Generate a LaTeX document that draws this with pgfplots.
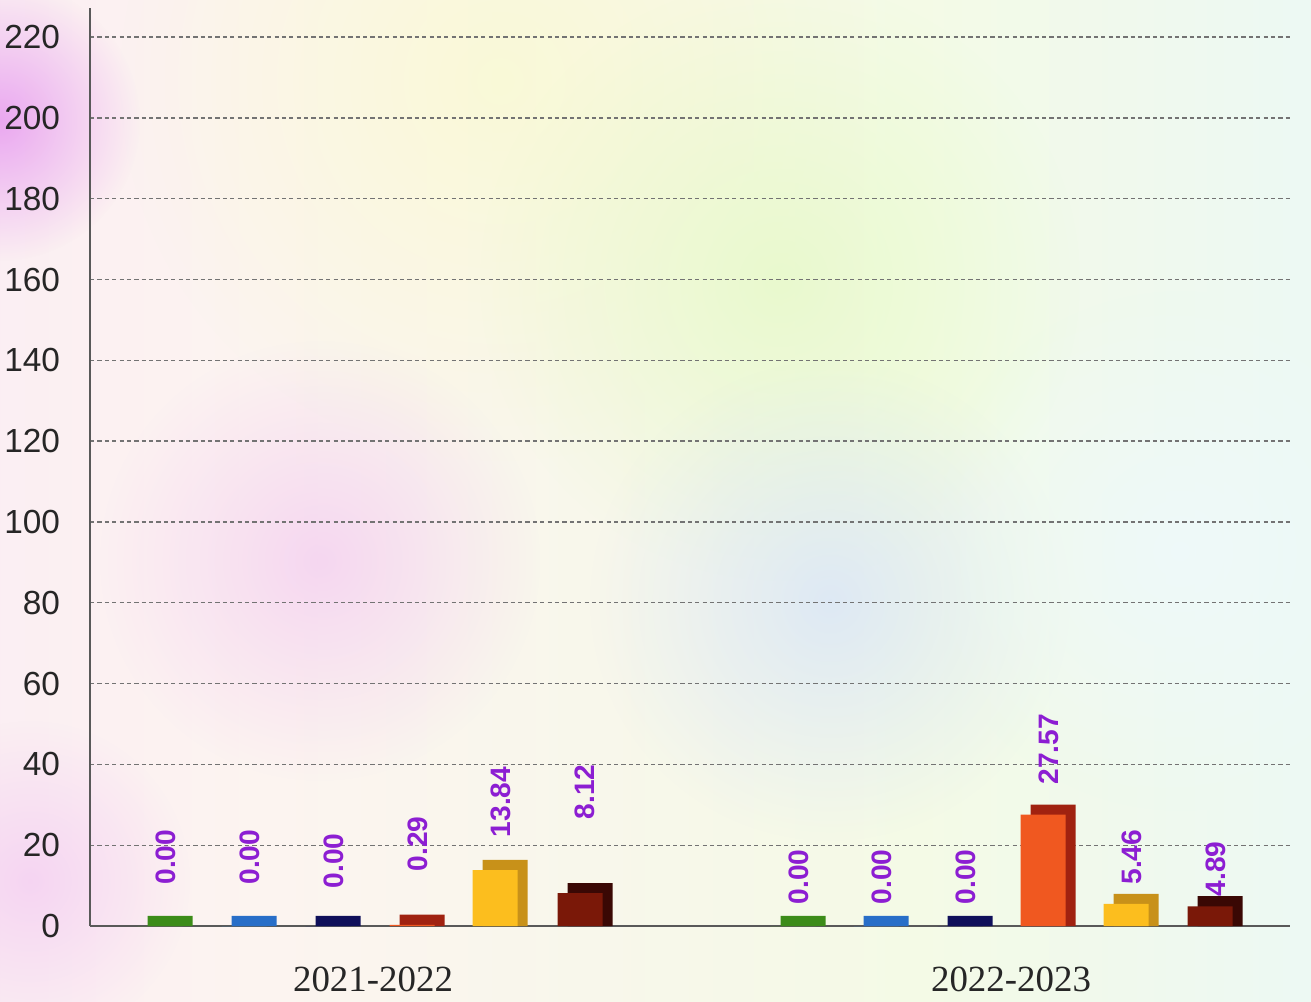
\documentclass[border=0pt]{standalone}
\usepackage{fontspec}
\setmainfont{Liberation Sans}
\newfontfamily\timesfont{Liberation Serif}
\usepackage{pgfplots}
\pgfplotsset{compat=1.18}
\usetikzlibrary{fadings}

\definecolor{gfront}{RGB}{92,180,40}   \definecolor{gback}{RGB}{60,140,25}
\definecolor{bfront}{RGB}{60,145,230}  \definecolor{bback}{RGB}{40,110,200}
\definecolor{nfront}{RGB}{28,28,130}   \definecolor{nback}{RGB}{15,15,90}
\definecolor{ofront}{RGB}{240,88,32}   \definecolor{oback}{RGB}{160,34,16}
\definecolor{yfront}{RGB}{252,190,30}  \definecolor{yback}{RGB}{200,145,25}
\definecolor{mfront}{RGB}{122,24,8}    \definecolor{mback}{RGB}{58,8,4}
\definecolor{lbl}{RGB}{140,30,210}
% background tones
\definecolor{c1}{RGB}{240,190,242}
\definecolor{c2}{RGB}{250,228,248}
\definecolor{c3}{RGB}{252,244,240}
\definecolor{c4}{RGB}{244,250,230}
\definecolor{c5}{RGB}{234,248,248}
\definecolor{c6}{RGB}{238,250,252}
\definecolor{bgyel}{RGB}{250,250,210}
\definecolor{bggreen}{RGB}{230,250,200}
\definecolor{bgblue}{RGB}{212,226,250}
\definecolor{bgpink}{RGB}{242,195,242}
\definecolor{bgmag}{RGB}{230,150,240}
\pgfdeclarehorizontalshading{bgh}{100bp}{color(0bp)=(c1); color(6bp)=(c2);
  color(35bp)=(c3); color(60bp)=(c4); color(80bp)=(c5); color(100bp)=(c6)}
\tikzfading[name=soft, inner color=transparent!0, outer color=transparent!100]

\begin{document}
\begin{tikzpicture}
\useasboundingbox (0,0) rectangle (131.1mm,100.1mm);
% watercolour-like background
\shade[shading=bgh] (0,0) rectangle (131.1mm,100.1mm);
\fill[bgyel, opacity=0.8, path fading=soft] (50mm,92mm) circle (38mm);
\fill[bggreen, opacity=0.8, path fading=soft] (78mm,72mm) circle (30mm);
\fill[bgblue, opacity=0.7, path fading=soft] (83mm,40mm) circle (24mm);
\fill[bgpink, opacity=0.6, path fading=soft] (32mm,44mm) circle (22mm);
\fill[bgmag, opacity=0.8, path fading=soft] (0mm,88mm) circle (14mm);
\fill[bgpink, opacity=0.6, path fading=soft] (3mm,12mm) circle (16mm);
\fill[c6, opacity=0.8, path fading=soft] (118mm,45mm) circle (26mm);

\begin{axis}[
    at={(9mm,7.5mm)}, anchor=south west,
    scale only axis,
    width=120mm, height=91.8mm,
    xmin=90, xmax=1290,
    ymin=0, ymax=227.2,
    axis lines*=left,
    axis line style={-, draw=black!65, line width=0.8pt},
    ytick={0,20,...,220},
    ymajorgrids,
    grid style={draw=black!55, line width=0.4pt, dash pattern=on 1.2pt off 0.9pt},
    major tick length=0pt,
    /pgf/number format/assume math mode=true,
    yticklabel style={font=\fontsize{9.5}{11}\selectfont, color=black!85, xshift=-5pt},
    xtick={373,1011},
    xticklabels={2021-2022,2022-2023},
    xticklabel style={font=\timesfont\fontsize{10.5}{12}\selectfont, color=black!85, yshift=-8pt},
    bar width=45,
  ]
  % back (depth) faces
  \addplot[ybar, bar shift=0pt, draw=none, fill=gback] coordinates {(170,2.5) (803,2.5)};
  \addplot[ybar, bar shift=0pt, draw=none, fill=bback] coordinates {(254,2.5) (886,2.5)};
  \addplot[ybar, bar shift=0pt, draw=none, fill=nback] coordinates {(338,2.5) (970,2.5)};
  \addplot[ybar, bar shift=0pt, draw=none, fill=oback] coordinates {(422,2.79) (1053,30.07)};
  \addplot[ybar, bar shift=0pt, draw=none, fill=yback] coordinates {(505,16.34) (1136,7.96)};
  \addplot[ybar, bar shift=0pt, draw=none, fill=mback] coordinates {(590,10.62) (1220,7.39)};
  % front faces
  \addplot[ybar, bar shift=0pt, draw=none, fill=gfront] coordinates {(160,0.00) (793,0.00)};
  \addplot[ybar, bar shift=0pt, draw=none, fill=bfront] coordinates {(244,0.00) (876,0.00)};
  \addplot[ybar, bar shift=0pt, draw=none, fill=nfront] coordinates {(328,0.00) (960,0.00)};
  \addplot[ybar, bar shift=0pt, draw=none, fill=ofront] coordinates {(412,0.29) (1043,27.57)};
  \addplot[ybar, bar shift=0pt, draw=none, fill=yfront] coordinates {(495,13.84) (1126,5.46)};
  \addplot[ybar, bar shift=0pt, draw=none, fill=mfront] coordinates {(580,8.12) (1210,4.89)};
  % value labels
  \addplot[draw=none, mark=none, nodes near coords, point meta=explicit symbolic,
           nodes near coords style={rotate=90, anchor=west, inner sep=0pt,
             font=\bfseries\fontsize{8}{9}\selectfont, color=lbl}]
    coordinates {
      (166,10.1) [0.00] (250,10.1) [0.00] (334,9.2) [0.00]
      (418,13.4) [0.29] (501,21.8) [13.84] (585,26.2) [8.12]
      (799,5.2) [0.00] (882,5.2) [0.00] (966,5.2) [0.00]
      (1049,34.9) [27.57] (1132,10.1) [5.46] (1216,7.2) [4.89]
    };
\end{axis}
\end{tikzpicture}
\end{document}
